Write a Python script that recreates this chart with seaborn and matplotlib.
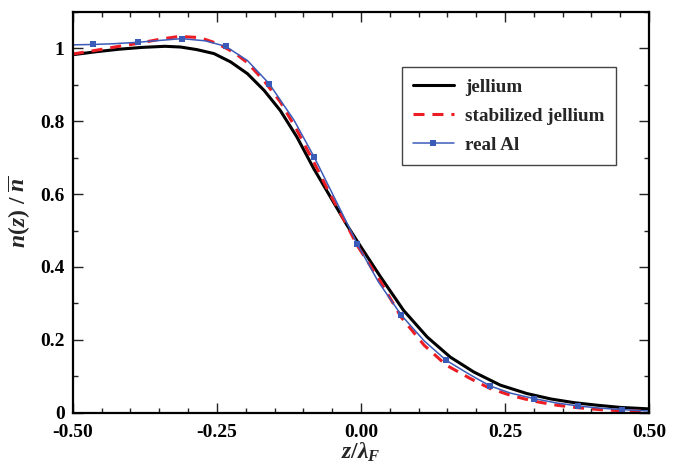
import numpy as np
import pandas as pd
import matplotlib
matplotlib.use("Agg")
import matplotlib.pyplot as plt
from matplotlib.ticker import MultipleLocator, FixedLocator
import seaborn as sns

# ---- data ----
jel_x = [-0.50, -0.46, -0.42, -0.38, -0.34, -0.313, -0.285, -0.255, -0.226, -0.197, -0.168,
         -0.140, -0.111, -0.082, -0.053, -0.024, 0.0, 0.034, 0.074, 0.115, 0.155, 0.196,
         0.242, 0.288, 0.33, 0.37, 0.41, 0.45, 0.50]
jel_y = [0.982, 0.990, 0.997, 1.002, 1.005, 1.003, 0.996, 0.985, 0.962, 0.930, 0.884,
         0.829, 0.756, 0.670, 0.592, 0.514, 0.455, 0.373, 0.281, 0.208, 0.153, 0.112,
         0.076, 0.053, 0.038, 0.028, 0.021, 0.015, 0.011]

stab_x = [-0.50, -0.46, -0.42, -0.387, -0.35, -0.316, -0.28, -0.25, -0.22, -0.197, -0.168,
          -0.140, -0.111, -0.081, -0.053, -0.024, -0.006, 0.034, 0.07, 0.11, 0.148, 0.19,
          0.224, 0.26, 0.30, 0.34, 0.377, 0.415, 0.45, 0.50]
stab_y = [0.984, 0.994, 1.005, 1.013, 1.024, 1.032, 1.029, 1.013, 0.988, 0.960, 0.910,
          0.853, 0.775, 0.685, 0.598, 0.513, 0.458, 0.360, 0.262, 0.185, 0.131, 0.094,
          0.067, 0.048, 0.032, 0.021, 0.014, 0.009, 0.006, 0.004]

al_x = [-0.50, -0.465, -0.43, -0.387, -0.35, -0.311, -0.27, -0.235, -0.197, -0.159, -0.116,
        -0.081, -0.041, -0.006, 0.03, 0.070, 0.11, 0.148, 0.19, 0.224, 0.26, 0.301, 0.34,
        0.377, 0.415, 0.453, 0.50]
al_y = [1.009, 1.010, 1.012, 1.016, 1.021, 1.026, 1.020, 1.005, 0.966, 0.902, 0.802,
        0.701, 0.574, 0.462, 0.360, 0.268, 0.197, 0.144, 0.104, 0.074, 0.054, 0.039, 0.027,
        0.019, 0.013, 0.009, 0.005]
al_marker_x = [-0.465, -0.387, -0.311, -0.235, -0.159, -0.081, -0.006, 0.070, 0.148, 0.224,
               0.301, 0.377, 0.453]

x_ticks = [-0.50, -0.25, 0.00, 0.25, 0.50]
x_ticklabels = ["-0.50", "-0.25", "0.00", "0.25", "0.50"]
y_ticks = [0, 0.2, 0.4, 0.6, 0.8, 1.0]
y_ticklabels = ["0", "0.2", "0.4", "0.6", "0.8", "1"]

# ---- style ----
sns.set_theme(style="ticks")
plt.rcParams["font.family"] = ["Liberation Serif", "DejaVu Serif"]
plt.rcParams["font.weight"] = "bold"
plt.rcParams["mathtext.fontset"] = "custom"
plt.rcParams["mathtext.it"] = "Liberation Serif:italic:bold"
plt.rcParams["mathtext.rm"] = "Liberation Serif:bold"
plt.rcParams["mathtext.bf"] = "Liberation Serif:bold"

fig = plt.figure(figsize=(6.81, 4.66), dpi=100)
ax = fig.add_axes([0.107, 0.114, 0.846, 0.861])

df_j = pd.DataFrame({"x": jel_x, "y": jel_y})
df_s = pd.DataFrame({"x": stab_x, "y": stab_y})
df_a = pd.DataFrame({"x": al_x, "y": al_y})

sns.lineplot(data=df_j, x="x", y="y", ax=ax, color="black", lw=2.2, sort=False,
             label="jellium")
sns.lineplot(data=df_s, x="x", y="y", ax=ax, color="#ec1c24", lw=2.2, sort=False,
             label="stabilized jellium")
ax.lines[-1].set_dashes((3.6, 2.6))
mark_idx = [al_x.index(v) for v in al_marker_x]
sns.lineplot(data=df_a, x="x", y="y", ax=ax, color="#3b5bb8", lw=1.1, sort=False,
             marker="s", markersize=4.5, markeredgewidth=0, markevery=mark_idx,
             label="real Al")

ax.set_xlim(-0.5, 0.5)
ax.set_ylim(0, 1.1)
ax.xaxis.set_major_locator(FixedLocator(x_ticks))
ax.set_xticklabels(x_ticklabels)
ax.xaxis.set_minor_locator(MultipleLocator(0.05))
ax.yaxis.set_major_locator(FixedLocator(y_ticks))
ax.set_yticklabels(y_ticklabels)
ax.yaxis.set_minor_locator(MultipleLocator(0.1))
ax.tick_params(which="both", direction="in", top=True, right=True, width=1.0,
               colors="#222222", labelcolor="black", labelsize=14)
ax.tick_params(which="major", length=7.5)
ax.tick_params(which="minor", length=3.5)
ax.tick_params(axis="x", which="major", pad=8)
ax.tick_params(axis="y", which="major", pad=6)
for lab in ax.get_xticklabels() + ax.get_yticklabels():
    lab.set_fontweight("bold")
for s in ax.spines.values():
    s.set_linewidth(1.6)
    s.set_color("black")

ax.set_xlabel(r"$\mathit{z/\lambda_F}$", fontsize=17, labelpad=0)
ax.set_ylabel(r"$\mathit{n(z)\ /\ \overline{n}}$", fontsize=17, labelpad=6)

leg = ax.legend(loc="upper left", bbox_to_anchor=(0.571, 0.862), borderaxespad=0,
                frameon=True, fancybox=False, edgecolor="#444444", framealpha=1,
                borderpad=0.6, handlelength=2.1, handletextpad=0.6, labelspacing=0.6,
                prop={"family": "Liberation Serif", "weight": "bold", "size": 13.8})
leg.get_frame().set_linewidth(1.0)

fig.savefig("out.png", dpi=100)
